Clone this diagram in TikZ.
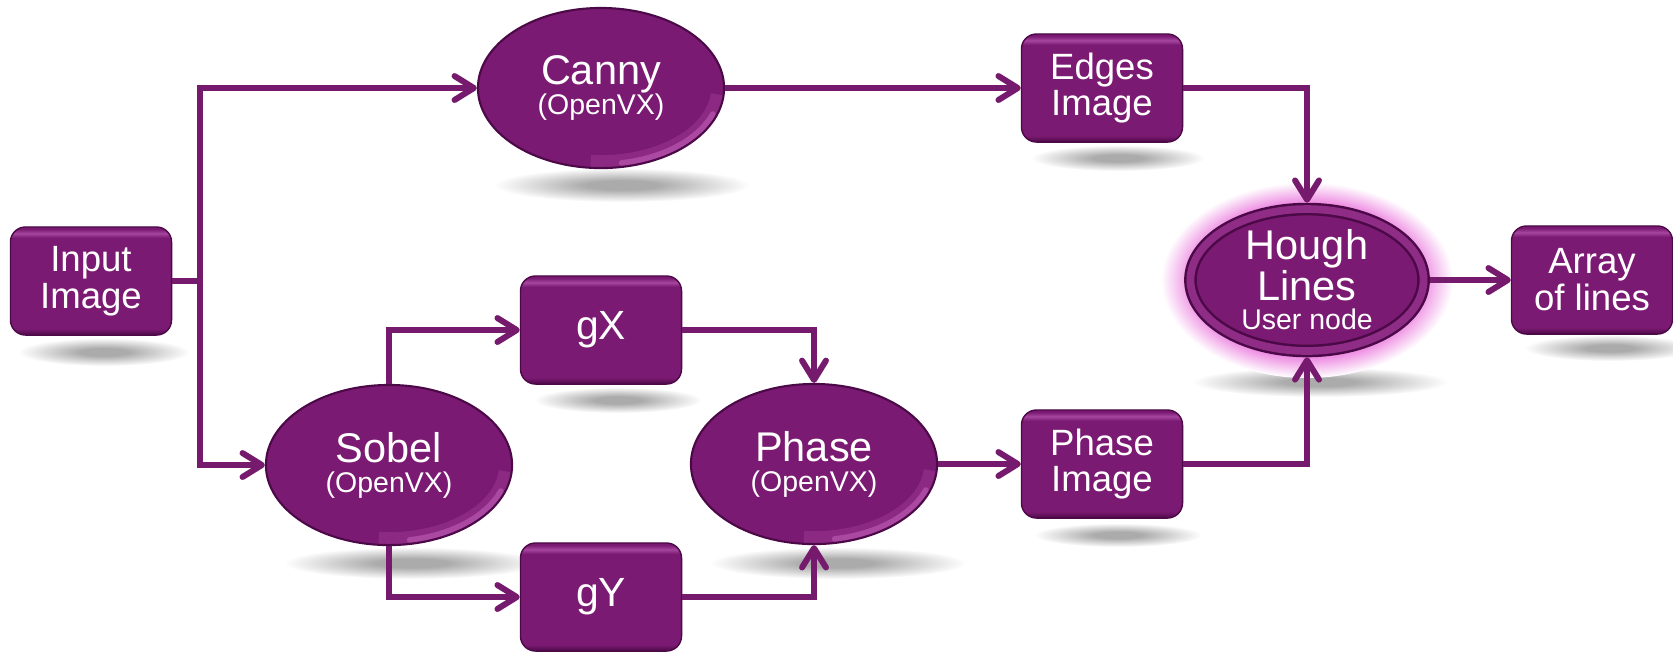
\documentclass[tikz,border=0pt]{standalone}
\usepackage{fontspec}
\setmainfont{Liberation Sans}
\usetikzlibrary{shapes.geometric,arrows.meta}

\definecolor{vxpurple}{HTML}{7B1A72}
\definecolor{vxdark}{HTML}{4C0947}
\definecolor{vxlight}{HTML}{A7469E}
\definecolor{vxring}{HTML}{8E2C86}
\definecolor{vxline}{HTML}{761A6E}
\definecolor{vxhigh}{HTML}{DA78D2}
\definecolor{vxglow}{HTML}{EE90E3}
\definecolor{vxshadow}{HTML}{ABABAB}

\pgfdeclareradialshading{softshadow}{\pgfpointorigin}{color(0bp)=(vxshadow); color(7bp)=(vxshadow); color(25bp)=(white); color(50bp)=(white)}
\pgfdeclareradialshading{pinkglow}{\pgfpointorigin}{color(0bp)=(vxglow); color(20bp)=(vxglow); color(25bp)=(white); color(50bp)=(white)}
\pgfdeclareverticalshading{boxface}{100bp}{color(0bp)=(vxdark); color(25bp)=(vxdark); color(28bp)=(vxpurple); color(70bp)=(vxpurple); color(72bp)=(vxlight); color(74bp)=(vxpurple); color(100bp)=(vxpurple)}

\newcommand{\vxsub}[1]{{\fontsize{8.1}{8.6}\selectfont #1}}

\begin{document}
\begin{tikzpicture}[x=0.01cm, y=-0.01cm,
	box/.style = {rectangle, rounded corners=0.15cm, shade, shading=boxface, draw=vxdark, line width=0.4pt,
		minimum width=1.61cm, minimum height=1.08cm, inner sep=0pt, text=white, align=center,
		font=\fontsize{10.4}{10.5}\selectfont},
	oval/.style = {ellipse, fill=vxpurple, draw=vxdark, line width=0.6pt,
		minimum width=2.46cm, minimum height=1.6cm, inner sep=0pt, text=white, align=center,
		font=\fontsize{11.8}{11.4}\selectfont,
		path picture={
			\draw[vxhigh, line width=4.5pt, opacity=.18]
				([shift={(-95:1.18cm and 0.75cm)}]path picture bounding box.center)
				arc[start angle=-95, end angle=-5, x radius=1.18cm, y radius=0.75cm];
			\draw[vxhigh, line width=1.6pt, opacity=.4, line cap=round]
				([shift={(-80:1.19cm and 0.76cm)}]path picture bounding box.center)
				arc[start angle=-80, end angle=-20, x radius=1.19cm, y radius=0.76cm];}},
	usernode/.style = {ellipse, fill=vxpurple, draw=vxdark, line width=0.7pt, double=vxring, double distance=2.2pt,
		minimum width=2.33cm, minimum height=1.41cm, inner sep=0pt, outer sep=1.8pt, text=white, align=center,
		font=\fontsize{11.8}{11.4}\selectfont},
	wire/.style = {draw=vxline, line width=1.7pt},
	flow/.style = {wire, -{Straight Barb[length=5.5pt, width=6.8pt, round]}}]

	\useasboundingbox (0,0) rectangle (1673,653);

	% soft shadows under the blocks
	\foreach \x/\y/\r/\h in {104/352/86/14, 622/185/128/17, 1118/158/87/13, 618/400/84/13,
		412/563/128/16, 838/563/128/16, 1118/535/84/12, 1320/382/128/15, 1610/348/86/13}
		\shade[shading=softshadow] (\x,\y) ellipse [x radius=\r, y radius=\h];

	% glow round the user node
	\shade[shading=pinkglow] (1307,280) ellipse [x radius=146, y radius=98];

	\node[box] (input) at (91, 281) {Input\\Image};
	\node[oval] (canny) at (601, 88) {Canny\\[-2.9pt]\vxsub{(OpenVX)}};
	\node[box] (edges) at (1102, 88) {Edges\\Image};
	\node[oval] (sobel) at (389, 465) {Sobel\\[-2.9pt]\vxsub{(OpenVX)}};
	\node[box, font=\fontsize{11.6}{11.4}\selectfont] (gx) at (601, 330) {gX};
	\node[box, font=\fontsize{11.6}{11.4}\selectfont] (gy) at (601, 597) {gY};
	\node[oval] (phase) at (814, 464) {Phase\\[-2.9pt]\vxsub{(OpenVX)}};
	\node[box] (phaseimg) at (1102, 464) {Phase\\Image};
	\node[usernode] (hough) at (1307, 280) {Hough\\Lines\\[-2.9pt]\vxsub{User node}};
	\node[box] (array) at (1592, 280) {Array\\of lines};

	\coordinate (split) at (200, 281);

	\draw[wire] (input) -- (split);
	\draw[flow] (split) |- (canny);
	\draw[flow] (split) |- (sobel);
	\draw[flow] (canny) -- (edges);
	\draw[flow] (edges) -| (hough);
	\draw[flow] (sobel) |- (gx);
	\draw[flow] (sobel) |- (gy);
	\draw[flow] (gx) -| (phase);
	\draw[flow] (gy) -| (phase);
	\draw[flow] (phase) -- (phaseimg);
	\draw[flow] (phaseimg) -| (hough);
	\draw[flow] (hough) -- (array);
\end{tikzpicture}
\end{document}
